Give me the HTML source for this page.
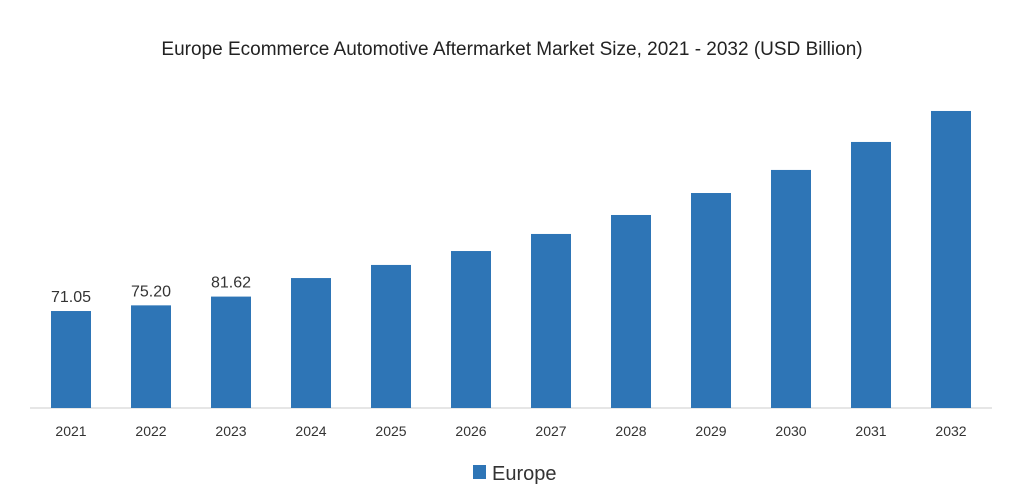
<!DOCTYPE html>
<html><head><meta charset="utf-8"><style>
body{margin:0;background:#fff;font-family:"Liberation Sans",sans-serif;}
</style></head><body>
<svg width="1015" height="494" viewBox="0 0 1015 494">
<text x="512" y="55" text-anchor="middle" font-size="19" fill="#222">Europe Ecommerce Automotive Aftermarket Market Size, 2021 - 2032 (USD Billion)</text>
<line x1="30" y1="408" x2="992" y2="408" stroke="#ddd" stroke-width="1.5"/>
<g id="bars"></g>
<rect x="473" y="465" width="13" height="14" fill="#2e75b6"/>
<text x="492" y="480" font-size="20" fill="#333">Europe</text>
</svg>
<script>
const categories=["2021","2022","2023","2024","2025","2026","2027","2028","2029","2030","2031","2032"];
const values=[71.05,75.20,81.62,95.2,104.8,115.0,127.5,141.4,157.5,174.4,194.9,217.6];
const labels=["71.05","75.20","81.62","","","","","","","","",""];
const NS="http://www.w3.org/2000/svg";
const g=document.getElementById('bars');
const base=408, scale=1.365;
function xc(i){return 71+i*80;}
function y(v){return base-v*scale;}
categories.forEach((c,i)=>{
  const r=document.createElementNS(NS,'rect');
  r.setAttribute('x',xc(i)-20);r.setAttribute('width',40);
  r.setAttribute('y',y(values[i]));r.setAttribute('height',base-y(values[i]));
  r.setAttribute('fill','#2e75b6');
  
  
  g.appendChild(r);
  const t=document.createElementNS(NS,'text');
  t.setAttribute('x',xc(i));t.setAttribute('y',436);t.setAttribute('text-anchor','middle');
  t.setAttribute('font-size','14');t.setAttribute('fill','#333');t.textContent=c;
  
  
  g.appendChild(t);
  if(labels[i]){
    const l=document.createElementNS(NS,'text');
    l.setAttribute('x',xc(i));l.setAttribute('y',y(values[i])-9);l.setAttribute('text-anchor','middle');
    l.setAttribute('font-size','16');l.setAttribute('fill','#333');l.textContent=labels[i];
    
    
    g.appendChild(l);
  }
});
</script>
</body></html>
